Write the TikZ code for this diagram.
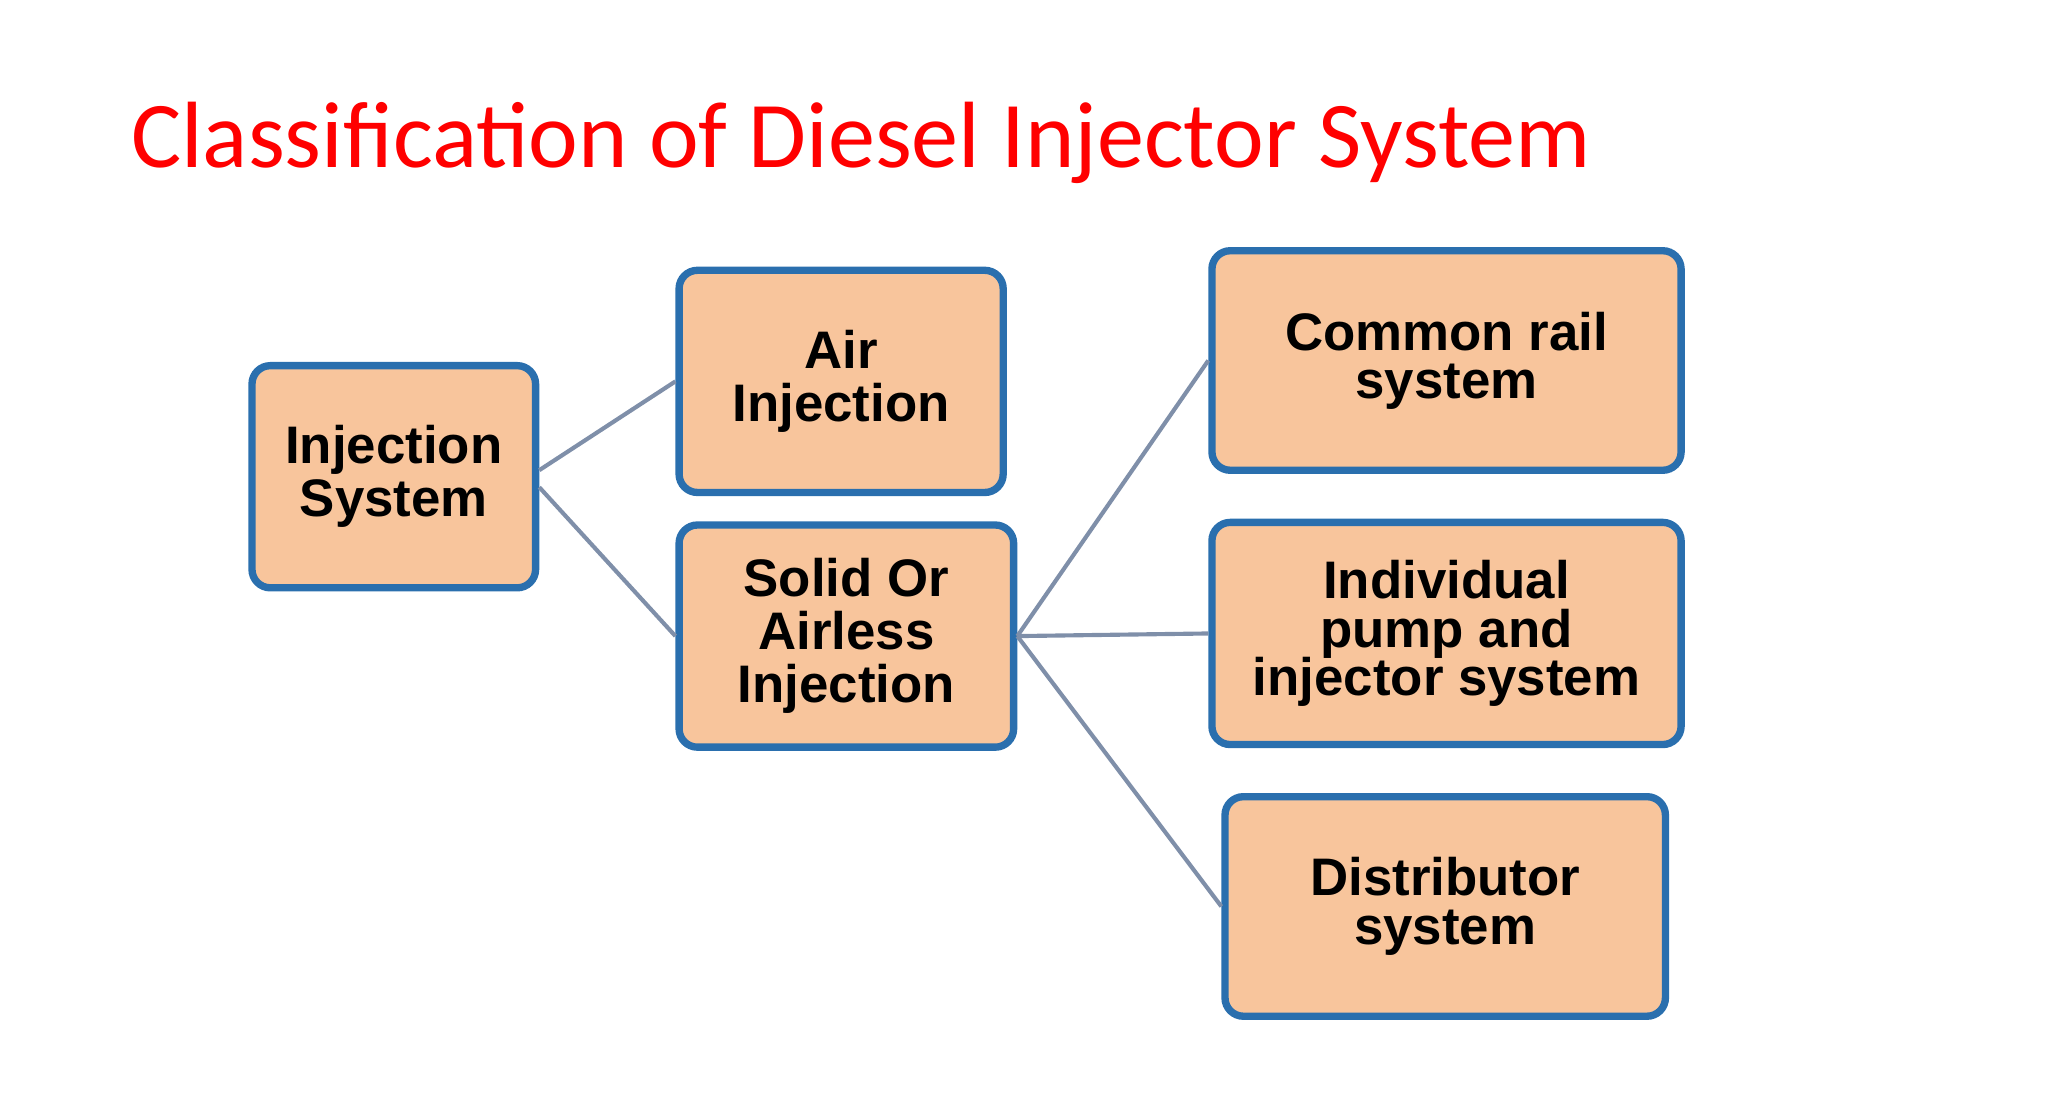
\documentclass[tikz,border=0pt]{standalone}
\usepackage{fontspec}
\setmainfont{Liberation Sans}
\newfontfamily\titlefont{Carlito}
\definecolor{bfill}{HTML}{F8C59C}
\definecolor{bdraw}{HTML}{2A6FAE}
\definecolor{lnk}{HTML}{7F8FA9}
\begin{document}
\begin{tikzpicture}[x=0.01cm,y=-0.01cm,
  box/.style={draw=bdraw, fill=bfill, line width=1.6pt, rounded corners=4pt, align=center, font=\bfseries\fontsize{11.5}{12.5}\selectfont, inner sep=0pt},
  link/.style={draw=lnk, line width=0.9pt}]
\useasboundingbox (0,0) rectangle (1568,854);
\node[anchor=base west, text=red, font=\titlefont\fontsize{20.5}{24}\selectfont] (t) at (88,128) {Classification of Diesel Injector System};
\node[box, minimum width=2.17cm, minimum height=1.7cm] (inj) at (301.5,365) {Injection\\[-1pt]System};
\node[box, minimum width=2.48cm, minimum height=1.7cm] (air) at (644,292) {Air\\[-1pt]Injection};
\node[box, minimum width=2.56cm, minimum height=1.7cm] (sol) at (648,487) {Solid Or\\[-1pt]Airless\\[-1pt]Injection};
\node[box, minimum width=3.59cm, minimum height=1.68cm] (com) at (1107.5,276) {Common rail\\[-2pt]system};
\node[box, minimum width=3.59cm, minimum height=1.7cm] (ind) at (1107.5,485) {Individual\\[-2pt]pump and\\[-2pt]injector system};
\node[box, minimum width=3.37cm, minimum height=1.68cm] (dis) at (1106.5,694) {Distributor\\[-2pt]system};
\draw[link] ([yshift=0.05cm]inj.east) -- (air.west);
\draw[link] ([yshift=-0.08cm]inj.east) -- (sol.west);
\draw[link] (sol.east) -- (com.west);
\draw[link] (sol.east) -- (ind.west);
\draw[link] (sol.east) -- (dis.west);
\end{tikzpicture}
\end{document}
